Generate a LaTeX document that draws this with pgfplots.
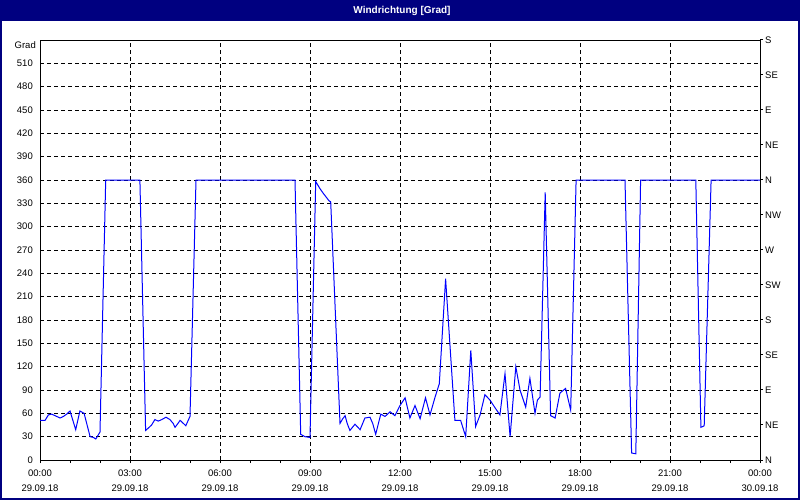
\documentclass[border=0pt]{standalone}
\usepackage{fontspec}
\setmainfont{Liberation Sans}
\usepackage{pgfplots}
\pgfplotsset{compat=1.18}
\definecolor{winnavy}{RGB}{0,0,128}

\pgfplotstableread{
t     v
0.00  51
0.17  51
0.28  58
0.39  59
0.50  57
0.67  54
0.78  56
0.89  59
1.00  63
1.19  39
1.33  63
1.47  60
1.67  30
1.78  29
1.86  27
2.00  36
2.19  360
3.33  360
3.52  38
3.61  41
3.72  45
3.83  52
3.94  50
4.06  52
4.20  55
4.33  52
4.44  47
4.50  42
4.58  46
4.67  51
4.78  47
4.86  44
4.94  51
5.00  56
5.20  360
8.50  360
8.69  33
8.83  30
9.00  29
9.19  358
9.33  349
9.44  343
9.64  333
9.69  332
10.00 47
10.09 53
10.17 57
10.24 47
10.33 38
10.50 46
10.67 39
10.83 54
11.00 55
11.09 47
11.19 33
11.28 47
11.36 59
11.50 56
11.67 62
11.83 57
12.00 70
12.17 80
12.33 54
12.50 70
12.67 53
12.85 80
13.00 58
13.17 81
13.31 98
13.52 233
13.83 51
14.02 51
14.19 30
14.36 141
14.52 43
14.67 58
14.83 84
15.00 77
15.17 67
15.33 58
15.50 111
15.67 30
15.86 120
16.00 90
16.19 68
16.33 105
16.50 60
16.58 77
16.67 81
16.84 344
17.02 57
17.17 54
17.33 86
17.52 92
17.69 64
17.87 360
19.50 360
19.72 9
19.86 8
20.02 360
21.86 360
22.03 42
22.14 44
22.37 360
24.00 360
}\winddata

\begin{document}
\begin{tikzpicture}[font=\fontsize{9.5bp}{15bp}\selectfont]
  % window frame and title bar
  \fill[white] (-40bp,-40bp) rectangle (760bp,460bp);
  \fill[winnavy] (-40bp,439bp) rectangle (760bp,460bp);
  \node[white, font=\fontsize{10bp}{12bp}\selectfont\bfseries] at (362bp,449.5bp) {Windrichtung [Grad]};

  \begin{axis}[
      at={(0,0)}, anchor=south west,
      scale only axis, width=720bp, height=420bp,
      xmin=0, xmax=24, ymin=0, ymax=540,
      xtick={0,3,...,24}, minor xtick={0,1,...,24},
      ytick={0,30,...,510},
      xticklabels={{00:00\\29.09.18},{03:00\\29.09.18},{06:00\\29.09.18},
                   {09:00\\29.09.18},{12:00\\29.09.18},{15:00\\29.09.18},
                   {18:00\\29.09.18},{21:00\\29.09.18},{00:00\\30.09.18}},
      xtick pos=lower, ytick pos=left,
      tick align=outside,
      major tick length=3bp, minor tick length=3bp,
      xtick style={black, line width=1bp},
      ytick style={draw=none},
      xmajorgrids, ymajorgrids,
      major grid style={black, line width=0.8bp, dash pattern=on 4bp off 3bp},
      axis line style={black, line width=1bp},
      xticklabel style={align=center, inner sep=0pt, yshift=-6.5bp},
      yticklabel style={inner sep=0pt, xshift=-4bp},
      /pgf/number format/assume math mode=true,
      clip=false,
    ]
    \addplot[blue, line width=1bp] table[x=t, y=v] {\winddata};
    \node[anchor=north east, inner sep=0pt, xshift=-4bp, yshift=-1bp] at (axis cs:0,540) {Grad};
  \end{axis}

  \begin{axis}[
      at={(0,0)}, anchor=south west,
      scale only axis, width=720bp, height=420bp,
      xmin=0, xmax=24, ymin=0, ymax=540,
      axis x line=none, axis y line*=right,
      ytick={0,45,...,540},
      yticklabels={N,NE,E,SE,S,SW,W,NW,N,NE,E,SE,S},
      tick align=outside, major tick length=3bp,
      ytick style={black, line width=1bp},
      axis line style={black, line width=1bp},
      yticklabel style={inner sep=0pt, anchor=west, xshift=2bp},
    ]
    \addplot[draw=none] coordinates {(0,0)};
  \end{axis}

  \draw[winnavy, line width=2bp] (-39bp,-39bp) rectangle (759bp,459bp);
  \pgfresetboundingbox
  \path[use as bounding box] (-40bp,-40bp) rectangle (760bp,460bp);
\end{tikzpicture}
\end{document}
